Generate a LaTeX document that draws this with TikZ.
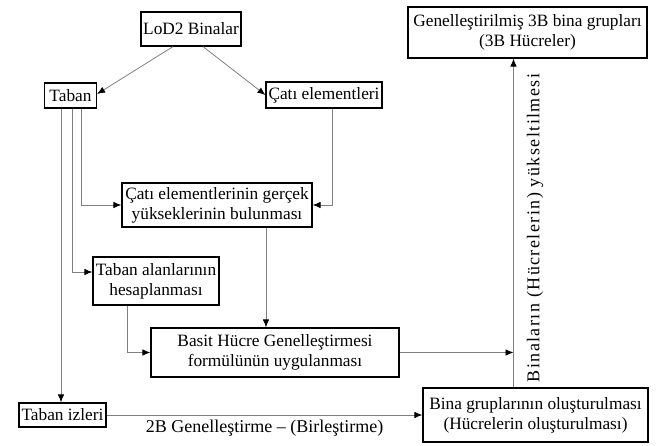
\documentclass[tikz,border=0pt]{standalone}
\usepackage{fontspec}
\setmainfont{Liberation Serif}
\newfontfamily\spacedserif[LetterSpace=8]{Liberation Serif}
\usetikzlibrary{arrows.meta}

\begin{document}
\begin{tikzpicture}[x=1pt,y=-1pt,
		box/.style={draw=black, line width=1.2pt, align=center, inner sep=0pt,
			font=\fontsize{17.3}{20}\selectfont},
		conn/.style={draw=gray, line width=0.8pt, -{Latex[black,length=8pt,width=6.5pt]}},
		lbl/.style={font=\fontsize{18}{20}\selectfont}]
	\useasboundingbox (0,0) rectangle (659,446);
	% boxes
	\node[box, minimum width=100pt, minimum height=34pt] (lod) at (191,29) {LoD2 Binalar};
	\node[box, minimum width=52pt, minimum height=25pt] (taban) at (70.5,95.5) {Taban};
	\node[box, minimum width=116pt, minimum height=26pt] (cati) at (324,95) {Çatı elementleri};
	\node[box, minimum width=190pt, minimum height=44pt] (gercek) at (217,205) {Çatı elementlerinin gerçek\\yükseklerinin bulunması};
	\node[box, minimum width=126pt, minimum height=48pt] (alan) at (156,281) {Taban alanlarının\\hesaplanması};
	\node[box, minimum width=248pt, minimum height=49pt] (basit) at (275,352.5) {Basit Hücre Genelleştirmesi\\formülünün uygulanması};
	\node[box, minimum width=87pt, minimum height=24pt] (izler) at (62.5,415) {Taban izleri};
	\node[box, minimum width=225pt, minimum height=54pt] (bina) at (535.5,415) {Bina gruplarının oluşturulması\\(Hücrelerin oluşturulması)};
	\node[box, minimum width=239pt, minimum height=51pt] (genel) at (527.5,32.5) {Genelleştirilmiş 3B bina grupları\\(3B Hücreler)};
	% connectors
	\draw[conn] ([xshift=-18pt]lod.south) -- ([yshift=1.5pt]taban.east);
	\draw[conn] ([xshift=12pt]lod.south) -- (cati.west);
	\draw[conn] ([xshift=10.5pt]taban.south) |- (gercek.west);
	\draw[conn] ([xshift=1.5pt]taban.south) |- ([yshift=9pt]alan.west);
	\draw[conn] ([xshift=-9.5pt]taban.south) -- ([xshift=-9.5pt]taban.south |- izler.north);
	\draw[conn] ([xshift=8pt]cati.south) |- (gercek.east);
	\draw[conn] ([xshift=49pt]gercek.south) -- ([xshift=49pt]gercek.south |- basit.north);
	\draw[conn] ([xshift=-29pt]alan.south) |- (basit.west);
	\coordinate (yukari) at ([xshift=-22pt]bina.north);
	\draw[conn] (yukari) -- (yukari |- genel.south);
	\draw[conn] (basit.east) -- (basit.east -| yukari);
	\draw[conn] (izler.east) -- (bina.west) node[lbl, midway, below=1pt] (birles) {2B Genelleştirme – (Birleştirme)};
	\node[lbl, rotate=90] (yuks) at (535,228) {\spacedserif Binaların (Hücrelerin) yükseltilmesi};
\end{tikzpicture}
\end{document}
